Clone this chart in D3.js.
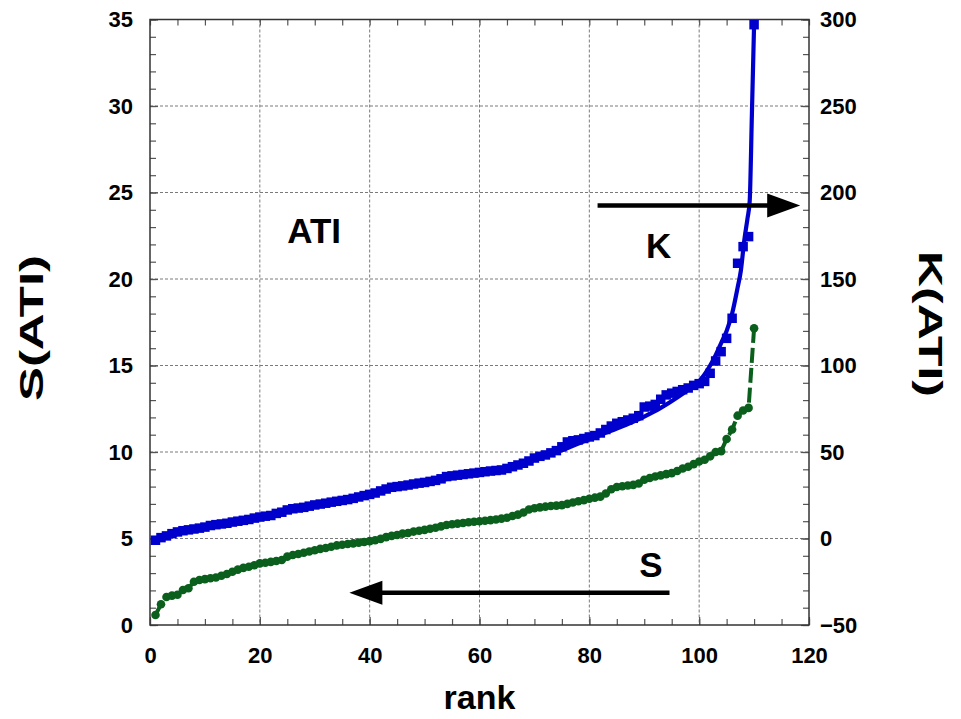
<!DOCTYPE html>
<html><head><meta charset="utf-8">
<script src="https://cdn.jsdelivr.net/npm/d3@7"></script>
<style>
body{margin:0;background:#fff}
text{font-family:"Liberation Sans",Arial,sans-serif;font-weight:bold;fill:#000}
</style>
</head><body>
<svg id="chart" width="961" height="719"></svg>
<script>
// ---- data ----
const ranks = d3.range(1, 111);
const kValues = [
 -1.0,0.5,1.5,2.8,3.8,4.5,5.0,5.5,6.0,6.6,
 7.5,8.0,8.4,8.8,9.5,10.0,10.5,11.0,11.8,12.4,
 12.9,13.3,14.5,15.2,16.5,17.2,17.6,18.0,18.7,19.4,
 19.9,20.4,21.0,21.5,22.0,22.5,23.2,24.0,24.8,25.5,
 26.3,27.5,28.6,29.6,30.0,30.4,30.9,31.5,32.0,32.4,
 33.0,33.6,34.5,35.8,36.2,36.6,37.0,37.4,37.8,38.2,
 38.6,39.0,39.3,39.6,40.5,41.5,42.5,43.5,44.8,46.5,
 47.5,48.3,49.5,50.8,53.0,55.8,56.5,57.0,57.8,58.7,
 59.5,61.0,63.0,65.0,66.6,67.5,68.5,69.5,71.0,76.0,
 76.5,77.5,80.5,83.0,84.0,85.0,86.0,87.0,88.5,89.5,
 90.8,95.5,102.6,108.0,115.7,127.3,159.1,168.7,174.5,297.0
];
const sValues = [
 0.58,1.2,1.62,1.7,1.75,2.02,2.12,2.5,2.6,2.65,
 2.7,2.75,2.85,2.95,3.08,3.2,3.3,3.37,3.45,3.56,
 3.6,3.65,3.7,3.76,3.95,4.05,4.1,4.18,4.25,4.32,
 4.4,4.45,4.52,4.6,4.64,4.68,4.72,4.76,4.8,4.85,
 4.9,4.98,5.08,5.15,5.2,5.28,5.32,5.4,5.45,5.5,
 5.56,5.62,5.7,5.78,5.82,5.86,5.9,5.94,5.97,6.0,
 6.03,6.06,6.1,6.15,6.2,6.3,6.38,6.5,6.68,6.75,
 6.8,6.84,6.88,6.9,6.93,7.0,7.08,7.15,7.22,7.3,
 7.36,7.42,7.6,7.85,7.98,8.02,8.06,8.1,8.18,8.4,
 8.5,8.58,8.65,8.72,8.78,8.9,9.05,9.15,9.3,9.45,
 9.55,9.75,10.0,10.05,10.75,11.3,12.1,12.4,12.55,17.15
];
const fitRanks = [1,10,20,30,40,50,60,70,75,80,85,90,93,96,98,100,101,102,103,104,105,106,107,107.6,108.2,108.8,109.2,109.6,110];
const fitK     = [-1,6.5,12.5,19,25.5,32,38,45.5,51,57.5,63.5,70.5,75.5,81.5,86,91,95,100,106,113,120,130,145,155,172,185,195,245,297];

const xTicks = [0,20,40,60,80,100,120];
const leftTicks = [0,5,10,15,20,25,30,35];
const rightTicks = [-50,0,50,100,150,200,250,300];

// annotations (data units: rank, left axis)
const arrowK = {y:24.25, from:81.5, to:118.4};
const arrowS = {y:1.87, from:94.6, to:36.3};
const labels = [
  {text:"ATI", x:25.0, y:22.1},
  {text:"K", x:90.3, y:21.2},
  {text:"S", x:89.1, y:2.77}
];

// ---- chart ----
const svg = d3.select("#chart");
const L = 150, R = 809, T = 19.5, B = 625;
const x = d3.scaleLinear([0,120],[L,R]);
const yL = d3.scaleLinear([0,35],[B,T]);
const yR = d3.scaleLinear([-50,300],[B,T]);
const blue = "#0000cd", green = "#0b5f1c";

// grid
const grid = svg.append("g").attr("stroke","#7a7a7a").attr("stroke-width",1).attr("stroke-dasharray","3,2");
xTicks.filter(t=>t>0&&t<120).forEach(t=>grid.append("line").attr("x1",x(t)).attr("x2",x(t)).attr("y1",T).attr("y2",B));
leftTicks.filter(t=>t>0&&t<35).forEach(t=>grid.append("line").attr("x1",L).attr("x2",R).attr("y1",yL(t)).attr("y2",yL(t)));

function styleAxis(g){
  g.select(".domain").remove();
  g.selectAll(".tick line").attr("stroke","#555").attr("stroke-width",1.2);
  g.selectAll("text").style("font-size","22px").style("font-family","'Liberation Sans',Arial,sans-serif").style("font-weight","bold").attr("fill","#000");
}
// minor ticks
svg.append("g").attr("transform",`translate(${L},0)`).call(d3.axisLeft(yL).tickValues(d3.range(0,36,1)).tickSize(-6).tickFormat("")).call(styleAxis);
svg.append("g").attr("transform",`translate(${R},0)`).call(d3.axisRight(yR).tickValues(d3.range(-50,301,10)).tickSize(-6).tickFormat("")).call(styleAxis);
svg.append("g").attr("transform",`translate(0,${B})`).call(d3.axisBottom(x).tickValues(d3.range(0,121,5)).tickSize(-6).tickFormat("")).call(styleAxis);
svg.append("g").attr("transform",`translate(0,${T})`).call(d3.axisTop(x).tickValues(d3.range(0,121,5)).tickSize(-6).tickFormat("")).call(styleAxis);
// major labelled axes
svg.append("g").attr("transform",`translate(${L},0)`).call(d3.axisLeft(yL).tickValues(leftTicks).tickSize(-8).tickPadding(17)).call(styleAxis);
svg.append("g").attr("transform",`translate(${R},0)`).call(d3.axisRight(yR).tickValues(rightTicks).tickSize(-8).tickPadding(11)).call(styleAxis);
svg.append("g").attr("transform",`translate(0,${B})`).call(d3.axisBottom(x).tickValues(xTicks).tickSize(-8).tickPadding(22)).call(styleAxis);

// frame
svg.append("rect").attr("x",L).attr("y",T).attr("width",R-L).attr("height",B-T).attr("fill","none").attr("stroke","#333").attr("stroke-width",1.5);

// S series (left axis)
svg.append("path").datum(ranks).attr("fill","none").attr("stroke",green).attr("stroke-width",4).attr("stroke-dasharray","15,5")
  .attr("d", d3.line().x(r=>x(r)).y((r,i)=>yL(sValues[i])));
svg.append("g").selectAll("circle").data(ranks).join("circle")
  .attr("cx",r=>x(r)).attr("cy",(r,i)=>yL(sValues[i])).attr("r",4.3).attr("fill",green);

// K series (right axis)
const sq = 9.5;
svg.append("g").selectAll("rect").data(ranks).join("rect")
  .attr("x",r=>x(r)-sq/2).attr("y",(r,i)=>yR(kValues[i])-sq/2).attr("width",sq).attr("height",sq).attr("fill",blue);
svg.append("path").datum(fitRanks).attr("fill","none").attr("stroke",blue).attr("stroke-width",4.2)
  .attr("d", d3.line().x(r=>x(r)).y((r,i)=>yR(fitK[i])).curve(d3.curveMonotoneX));

// arrows
function arrow(a){
  const y = yL(a.y), x0 = x(a.from), x1 = x(a.to), dir = Math.sign(x1-x0), hl = 33, hw = 12;
  svg.append("line").attr("x1",x0).attr("x2",x1-dir*hl+dir*2).attr("y1",y).attr("y2",y).attr("stroke","#000").attr("stroke-width",4.5);
  svg.append("path").attr("d",`M${x1},${y} L${x1-dir*hl},${y-hw} L${x1-dir*hl},${y+hw} Z`).attr("fill","#000");
}
arrow(arrowK); arrow(arrowS);

labels.forEach(l=>svg.append("text").attr("x",x(l.x)).attr("y",yL(l.y)).style("font-size","35px").text(l.text));

// axis titles
svg.append("text").attr("x",(L+R)/2).attr("y",709).attr("text-anchor","middle").style("font-size","34px").text("rank");
svg.append("text").attr("transform",`translate(43,328) rotate(-90)`).attr("text-anchor","middle")
  .attr("textLength",146).attr("lengthAdjust","spacingAndGlyphs").style("font-size","34px").text("S(ATI)");
svg.append("text").attr("transform",`translate(919,324) rotate(90)`).attr("text-anchor","middle")
  .attr("textLength",146).attr("lengthAdjust","spacingAndGlyphs").style("font-size","34px").text("K(ATI)");
</script>
</body></html>
